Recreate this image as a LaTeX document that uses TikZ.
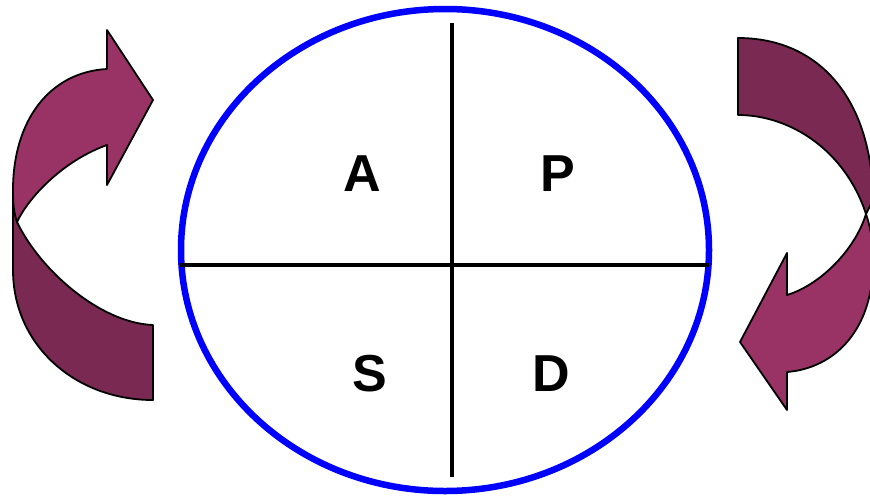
\documentclass[tikz,border=0pt]{standalone}
\usepackage{fontspec}
\setmainfont{Liberation Sans}
\usepackage{xcolor}
\usepackage{tikz}
\usetikzlibrary{positioning, calc}

\definecolor{bandlight}{HTML}{993366}
\definecolor{banddark}{HTML}{7A2A52}
\definecolor{ringblue}{HTML}{0000FF}

\begin{document}
\begin{tikzpicture}[
    x=1pt, y=-1pt,
    ring/.style={draw=ringblue, line width=6.5pt},
    cross/.style={draw=black, line width=3.5pt},
    letter/.style={font=\fontsize{52}{52}\selectfont\bfseries, inner sep=0pt},
    front/.style={fill=bandlight, draw=black, line width=1.8pt, line join=round},
    back/.style={fill=banddark, draw=black, line width=1.8pt, line join=round}
]
\clip (0,0) rectangle (870,496);

% Circle and quadrants
\draw[ring] (445,250) ellipse [x radius=264, y radius=241];
\coordinate (top) at (452,23);
\coordinate (bottom) at (452,477);
\coordinate (west) at (180,265);
\coordinate (east) at (709,265);
\draw[cross] (top) -- (bottom);
\draw[cross] (west) -- (east);

\node[letter] (a) at (362,174) {A};
\node[letter] (p) at (558,174) {P};
\node[letter] (s) at (370,374) {S};
\node[letter] (d) at (551,374) {D};

% Left curved arrow
\draw[back] (13,185) -- (13,270) .. controls (13,345) and (75,400) .. (153,400)
    -- (153,325) .. controls (100,323) and (40,270) .. (17,222) -- cycle;
\draw[front] (17,222) .. controls (13,210) and (13,200) .. (13,190)
    .. controls (13,120) and (50,72) .. (107,69)
    -- (107,30) -- (153,100) -- (107,185) -- (107,145)
    .. controls (65,160) and (30,195) .. (17,222) -- cycle;

% Right curved arrow
\draw[back] (738,38) .. controls (820,38) and (872,100) .. (873,200)
    -- (866,214) .. controls (845,150) and (790,115) .. (738,115) -- cycle;
\draw[front] (866,214) .. controls (873,235) and (873,250) .. (873,265)
    .. controls (872,330) and (835,368) .. (787,372)
    -- (787,410) -- (740,342) -- (787,253) -- (787,295)
    .. controls (820,285) and (855,250) .. (866,214) -- cycle;

\end{tikzpicture}
\end{document}
